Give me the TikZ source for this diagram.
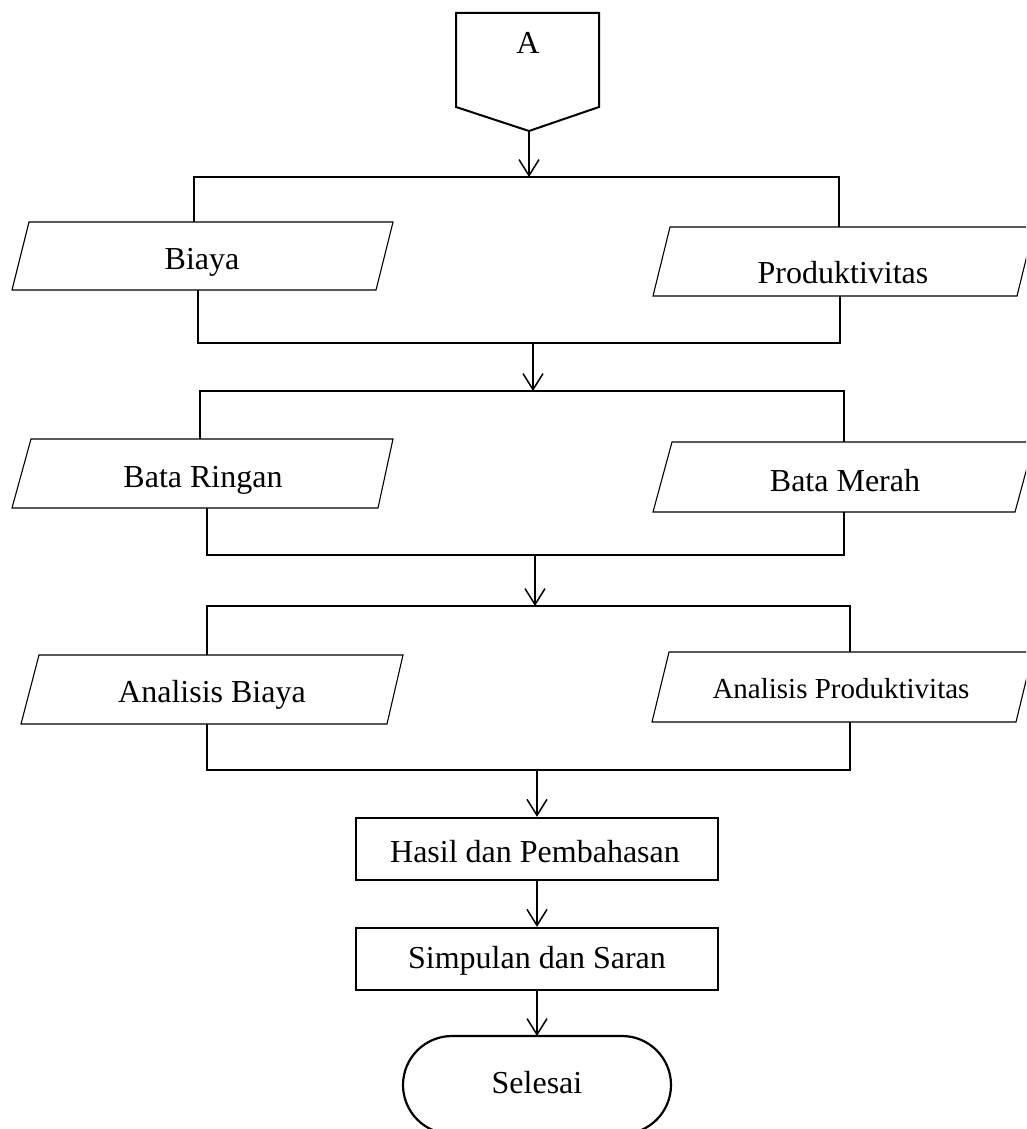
\documentclass[tikz,border=0pt]{standalone}
\usepackage{fontspec}
\setmainfont{Liberation Serif}
\usetikzlibrary{arrows.meta}
\tikzset{
  link/.style={line width=1.8pt},
  flow/.style={line width=1.5pt,-{Straight Barb[length=16pt,width=20pt,line width=1.5pt]}},
  paral/.style={line width=1.1pt},
  boxshape/.style={line width=2.4pt},
  lbl/.style={font=\fontsize{32pt}{38pt}\selectfont,inner sep=0pt,anchor=base},
  lblsmall/.style={font=\fontsize{29pt}{35pt}\selectfont,inner sep=0pt,anchor=base},
}
\begin{document}
\begin{tikzpicture}[x=1pt,y=-1pt]
\useasboundingbox (0,0) rectangle (1026,1129);
\clip (0,0) rectangle (1026,1129);

% ---------- connector A ----------
\draw[line width=2pt] (456,13) -- (599,13) -- (599,107) -- (529,131) -- (456,107) -- cycle;
\node[lbl] (A) at (528,54) {A};
\coordinate (Abot) at (529,131);

% ---------- stage 1 ----------
\coordinate (b1m) at (529,177);
\coordinate (b1l) at (194,177);
\coordinate (b1r) at (839,177);
\draw[paral] (29,222) -- (393,222) -- (376,290) -- (12,290) -- cycle;
\node[lbl] (biaya) at (202,269) {Biaya};
\coordinate (p1t) at (194,222);
\coordinate (p1b) at (198,290);
\draw[paral] (670,227) -- (1034,227) -- (1017,296) -- (653,296) -- cycle;
\node[lbl] (prod) at (843,283) {Produktivitas};
\coordinate (p2t) at (839,227);
\coordinate (p2b) at (840,296);
\coordinate (c1l) at (198,343);
\coordinate (c1r) at (840,343);
\coordinate (c1m) at (533,343);

\draw[flow] (Abot) -- (b1m);
\draw[link] (p1t) -- (b1l) -- (b1r) -- (p2t);
\draw[link] (p1b) -- (c1l) -- (c1r) -- (p2b);

% ---------- stage 2 ----------
\coordinate (b2m) at (533,391);
\coordinate (b2l) at (200,391);
\coordinate (b2r) at (844,391);
\draw[paral] (31,439) -- (393,439) -- (378,508) -- (12,508) -- cycle;
\node[lbl] (ringan) at (203,487) {Bata Ringan};
\coordinate (p3t) at (200,439);
\coordinate (p3b) at (207,508);
\draw[paral] (672,442) -- (1034,442) -- (1015,512) -- (653,512) -- cycle;
\node[lbl] (merah) at (845,491) {Bata Merah};
\coordinate (p4t) at (844,442);
\coordinate (p4b) at (844,512);
\coordinate (c2l) at (207,555);
\coordinate (c2r) at (844,555);
\coordinate (c2m) at (535,555);

\draw[flow] (c1m) -- (b2m);
\draw[link] (p3t) -- (b2l) -- (b2r) -- (p4t);
\draw[link] (p3b) -- (c2l) -- (c2r) -- (p4b);

% ---------- stage 3 ----------
\coordinate (b3m) at (535,606);
\coordinate (b3l) at (207,606);
\coordinate (b3r) at (850,606);
\draw[paral] (39,655) -- (403,655) -- (387,724) -- (21,724) -- cycle;
\node[lbl] (anbiaya) at (212,702) {Analisis Biaya};
\coordinate (p5t) at (207,655);
\coordinate (p5b) at (207,724);
\draw[paral] (669,652) -- (1033,652) -- (1016,722) -- (652,722) -- cycle;
\node[lblsmall] (anprod) at (841,698) {Analisis Produktivitas};
\coordinate (p6t) at (850,652);
\coordinate (p6b) at (850,722);
\coordinate (c3l) at (207,770);
\coordinate (c3r) at (850,770);
\coordinate (c3m) at (537,770);

\draw[flow] (c2m) -- (b3m);
\draw[link] (p5t) -- (b3l) -- (b3r) -- (p6t);
\draw[link] (p5b) -- (c3l) -- (c3r) -- (p6b);

% ---------- final steps ----------
\node[boxshape,draw,minimum width=362pt,minimum height=62pt,inner sep=0pt] (hasil) at (537,849) {};
\node[lbl] (hasiltxt) at (535,862) {Hasil dan Pembahasan};
\node[boxshape,draw,minimum width=362pt,minimum height=62pt,inner sep=0pt] (simp) at (537,959) {};
\node[lbl] (simptxt) at (537,968) {Simpulan dan Saran};
\draw[line width=2.2pt,rounded corners=49pt] (403,1036) rectangle (671,1134);
\coordinate (seltop) at (537,1036);
\node[lbl] (selesai) at (537,1093) {Selesai};

\draw[flow] (c3m) -- (hasil.north);
\draw[flow] (hasil.south) -- (simp.north);
\draw[flow] (simp.south) -- (seltop);
\end{tikzpicture}
\end{document}
